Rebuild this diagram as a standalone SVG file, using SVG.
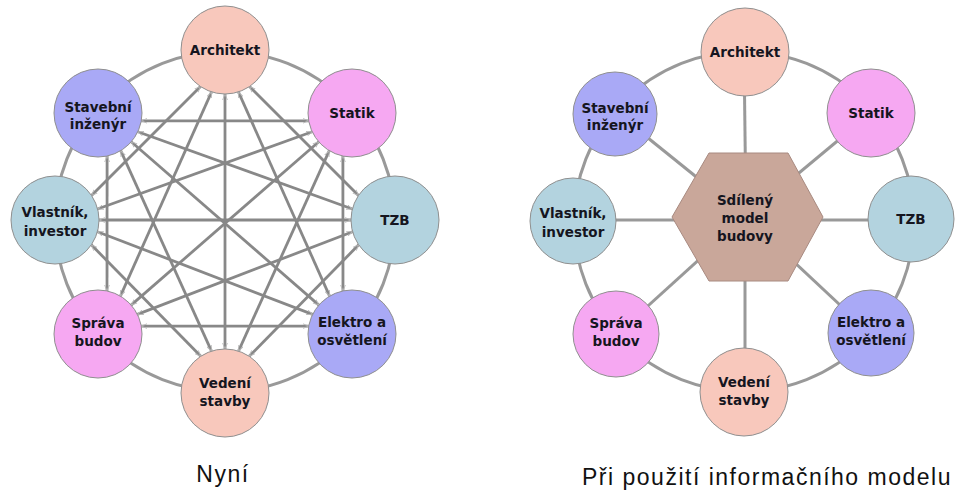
<svg xmlns="http://www.w3.org/2000/svg" width="973" height="490" viewBox="0 0 973 490">
  <style>
    .ring{fill:none;stroke:#999;stroke-width:3}
    .chord{stroke:#888;stroke-width:2.8;marker-start:url(#tip);marker-end:url(#tip)}
    .spoke{stroke:#999;stroke-width:3}
    .node{stroke:#8f8f8f;stroke-width:1}
    .salmon{fill:#f8c8bc}
    .lavender{fill:#a9a9f6}
    .pink{fill:#f6a8f2}
    .blue{fill:#b3d3df}
    .hex{fill:#c9a79a;stroke:#a88a80;stroke-width:1}
    .lbl{font-family:"DejaVu Sans",Verdana,sans-serif;font-weight:bold;font-size:13.5px;fill:#151520;text-anchor:middle}
    .cap{font-family:"Liberation Sans",Arial,sans-serif;font-size:23px;letter-spacing:1.5px;fill:#111;text-anchor:middle}
  </style>
  <defs>
    <marker id="tip" viewBox="0 0 10 10" refX="10" refY="5" markerWidth="6" markerHeight="6" markerUnits="userSpaceOnUse" orient="auto-start-reverse">
      <path d="M0,1 L10,5 L0,9" fill="none" stroke="#b8b8b8" stroke-width="1.5"/>
    </marker>
  </defs>
  <rect width="973" height="490" fill="#fff"/>

  <!-- Left: everyone talks to everyone -->
  <g id="now-connectors">
    <circle class="ring" cx="225" cy="221.5" r="170"/>
    <line class="chord" x1="249.5" y1="86.5" x2="358.5" y2="195.5"/>
    <line class="chord" x1="200.5" y1="86.5" x2="91.5" y2="195.5"/>
    <line class="chord" x1="238.4" y1="91.9" x2="329.6" y2="296.1"/>
    <line class="chord" x1="211.6" y1="91.9" x2="120.4" y2="296.1"/>
    <line class="chord" x1="225" y1="94" x2="225" y2="349"/>
    <line class="chord" x1="342.9" y1="156" x2="343" y2="290.9"/>
    <line class="chord" x1="107.1" y1="156" x2="107" y2="290.9"/>
    <line class="chord" x1="329.3" y1="150.7" x2="238.5" y2="351.1"/>
    <line class="chord" x1="120.7" y1="150.7" x2="211.5" y2="351.1"/>
    <line class="chord" x1="318.8" y1="141.8" x2="131.1" y2="305.1"/>
    <line class="chord" x1="131.2" y1="141.8" x2="318.9" y2="305.1"/>
    <line class="chord" x1="312.2" y1="131.8" x2="97.6" y2="209"/>
    <line class="chord" x1="137.8" y1="131.8" x2="352.4" y2="209"/>
    <line class="chord" x1="308.7" y1="120.8" x2="141.3" y2="120.8"/>
    <line class="chord" x1="358.7" y1="244.8" x2="249.2" y2="356.3"/>
    <line class="chord" x1="91.3" y1="244.8" x2="200.8" y2="356.3"/>
    <line class="chord" x1="352.6" y1="231.7" x2="137.4" y2="314.4"/>
    <line class="chord" x1="97.4" y1="231.7" x2="312.6" y2="314.4"/>
    <line class="chord" x1="351" y1="220" x2="99" y2="220"/>
    <line class="chord" x1="308.7" y1="326.1" x2="141.3" y2="326.1"/>
  </g>

  <g id="now-architekt"><circle class="node salmon" cx="225" cy="50" r="44"/><text class="lbl" x="225" y="55">Architekt</text></g>
  <g id="now-stavebni"><circle class="node lavender" cx="98" cy="113" r="44"/><text class="lbl" x="98" y="112">Stavební</text><text class="lbl" x="98" y="129">inženýr</text></g>
  <g id="now-statik"><circle class="node pink" cx="352" cy="113" r="44"/><text class="lbl" x="352" y="118">Statik</text></g>
  <g id="now-vlastnik"><circle class="node blue" cx="55" cy="220" r="44"/><text class="lbl" x="55" y="217">Vlastník,</text><text class="lbl" x="55" y="236">investor</text></g>
  <g id="now-tzb"><circle class="node blue" cx="395" cy="220" r="44"/><text class="lbl" x="395" y="225">TZB</text></g>
  <g id="now-sprava"><circle class="node pink" cx="98" cy="334" r="44"/><text class="lbl" x="98" y="328">Správa</text><text class="lbl" x="98" y="346">budov</text></g>
  <g id="now-elektro"><circle class="node lavender" cx="352" cy="334" r="44"/><text class="lbl" x="352" y="327">Elektro a</text><text class="lbl" x="352" y="345">osvětlení</text></g>
  <g id="now-vedeni"><circle class="node salmon" cx="225" cy="393" r="44"/><text class="lbl" x="225" y="388">Vedení</text><text class="lbl" x="225" y="406">stavby</text></g>

  <text class="cap" x="223" y="482">Nyní</text>

  <!-- Right: everyone shares one model -->
  <g transform="translate(519,0)">
    <g id="bim-connectors">
      <circle class="ring" cx="225" cy="221.5" r="170"/>
      <line class="spoke" x1="227" y1="217" x2="225" y2="50"/>
      <line class="spoke" x1="227" y1="217" x2="98" y2="113"/>
      <line class="spoke" x1="227" y1="217" x2="352" y2="113"/>
      <line class="spoke" x1="227" y1="220" x2="55" y2="220"/>
      <line class="spoke" x1="227" y1="220" x2="395" y2="220"/>
      <line class="spoke" x1="227" y1="217" x2="98" y2="334"/>
      <line class="spoke" x1="227" y1="217" x2="352" y2="334"/>
      <line class="spoke" x1="226" y1="217" x2="226" y2="393"/>
    </g>

    <g id="bim-model">
      <polygon class="hex" points="190,153 269,153 304,217 269,281 190,281 153,217"/>
      <text class="lbl" x="226" y="205">Sdílený</text>
      <text class="lbl" x="226" y="223">model</text>
      <text class="lbl" x="226" y="241">budovy</text>
    </g>

    <g id="bim-architekt"><circle class="node salmon" cx="226" cy="52" r="44"/><text class="lbl" x="226" y="57">Architekt</text></g>
    <g id="bim-stavebni"><circle class="node lavender" cx="96" cy="114" r="42"/><text class="lbl" x="96" y="113">Stavební</text><text class="lbl" x="96" y="130">inženýr</text></g>
    <g id="bim-statik"><circle class="node pink" cx="352" cy="113" r="44"/><text class="lbl" x="352" y="118">Statik</text></g>
    <g id="bim-vlastnik"><circle class="node blue" cx="54" cy="221" r="43"/><text class="lbl" x="54" y="218">Vlastník,</text><text class="lbl" x="54" y="237">investor</text></g>
    <g id="bim-tzb"><circle class="node blue" cx="392" cy="219" r="43"/><text class="lbl" x="392" y="224">TZB</text></g>
    <g id="bim-sprava"><circle class="node pink" cx="97" cy="334" r="43"/><text class="lbl" x="97" y="328">Správa</text><text class="lbl" x="97" y="346">budov</text></g>
    <g id="bim-elektro"><circle class="node lavender" cx="352" cy="333" r="43"/><text class="lbl" x="352" y="327">Elektro a</text><text class="lbl" x="352" y="345">osvětlení</text></g>
    <g id="bim-vedeni"><circle class="node salmon" cx="225" cy="392" r="44"/><text class="lbl" x="225" y="387">Vedení</text><text class="lbl" x="225" y="405">stavby</text></g>
  </g>

  <text class="cap" x="767" y="485">Při použití informačního modelu</text>
</svg>
